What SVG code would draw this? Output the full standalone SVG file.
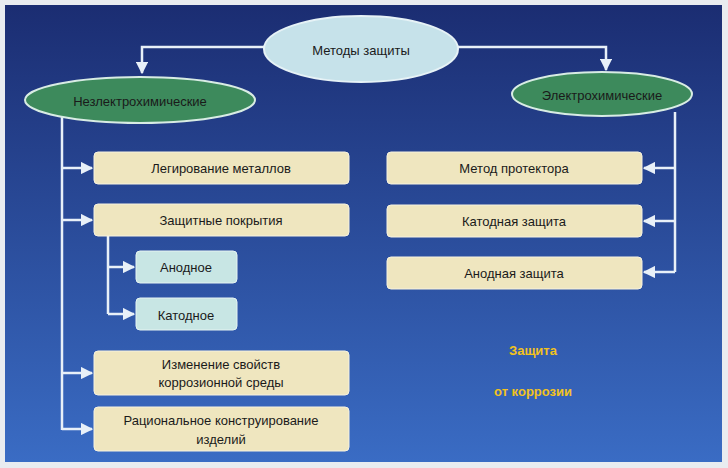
<svg xmlns="http://www.w3.org/2000/svg" width="728" height="468" viewBox="0 0 728 468">
<defs>
<linearGradient id="bg" x1="0" y1="0" x2="0" y2="1"><stop offset="0" stop-color="#1b2d72"/><stop offset="1" stop-color="#3a6cc4"/></linearGradient>
<marker id="ar" viewBox="0 0 10 10" refX="9" refY="5" markerWidth="5" markerHeight="5" orient="auto"><path d="M0,0L10,5L0,10z" fill="#e8f0f8"/></marker>
</defs>
<style>
.c{fill:none;stroke:#e8f0f8;stroke-width:2.5}
.b{fill:#efe6bf;stroke:#f6f2e0;stroke-width:1}
.s{fill:#c8e6e4;stroke:#e6f4f2;stroke-width:1}
text{font-family:"Liberation Sans",Arial,sans-serif;font-size:13px;fill:#1a1a1a;text-anchor:middle}
</style>
<rect x="0" y="0" width="728" height="468" fill="#e9ecf0"/>
<rect x="5" y="5" width="717" height="457" fill="url(#bg)"/>
<g id="connectors">
<path class="c" d="M266,47H142V73" marker-end="url(#ar)"/>
<path class="c" d="M457,47H606V70" marker-end="url(#ar)"/>
<path class="c" d="M62,115V430"/>
<path class="c" d="M62,168H92" marker-end="url(#ar)"/>
<path class="c" d="M62,220H92" marker-end="url(#ar)"/>
<path class="c" d="M62,373H92" marker-end="url(#ar)"/>
<path class="c" d="M62,429H92" marker-end="url(#ar)"/>
<path class="c" d="M108,236V314"/>
<path class="c" d="M108,267H134" marker-end="url(#ar)"/>
<path class="c" d="M108,314H134" marker-end="url(#ar)"/>
<path class="c" d="M675,112V272"/>
<path class="c" d="M675,168H644" marker-end="url(#ar)"/>
<path class="c" d="M675,221H644" marker-end="url(#ar)"/>
<path class="c" d="M675,272H644" marker-end="url(#ar)"/>
</g>
<g id="root"><ellipse cx="361" cy="49" rx="97" ry="33" fill="#c6e2ea" stroke="#e6f2f6" stroke-width="2"/><text x="361" y="55" font-size="16">Методы защиты</text></g>
<g id="nonel"><ellipse cx="140" cy="100" rx="115" ry="23" fill="#3d8a5c" stroke="#d8ece4" stroke-width="2"/><text x="140" y="106" font-size="15">Незлектрохимические</text></g>
<g id="el"><ellipse cx="602" cy="94" rx="90" ry="22" fill="#3d8a5c" stroke="#d8ece4" stroke-width="2"/><text x="602" y="100" font-size="15">Электрохимические</text></g>
<g id="n1"><rect class="b" x="94" y="152" width="255" height="32" rx="4"/><text x="221" y="173">Легирование металлов</text></g>
<g id="n2"><rect class="b" x="94" y="204" width="255" height="32" rx="4"/><text x="221" y="225">Защитные покрытия</text></g>
<g id="n3"><rect class="s" x="136" y="251" width="101" height="32" rx="4"/><text x="186" y="272">Анодное</text></g>
<g id="n4"><rect class="s" x="136" y="298" width="101" height="32" rx="4"/><text x="186" y="320">Катодное</text></g>
<g id="n5"><rect class="b" x="94" y="351" width="255" height="44" rx="4"/><text x="221" y="369">Изменение свойств</text><text x="221" y="387">коррозионной среды</text></g>
<g id="n6"><rect class="b" x="94" y="407" width="255" height="44" rx="4"/><text x="221" y="425">Рациональное конструирование</text><text x="221" y="444">изделий</text></g>
<g id="r1"><rect class="b" x="387" y="152" width="255" height="32" rx="4"/><text x="514" y="173">Метод протектора</text></g>
<g id="r2"><rect class="b" x="387" y="205" width="255" height="32" rx="4"/><text x="514" y="226">Катодная защита</text></g>
<g id="r3"><rect class="b" x="387" y="257" width="255" height="32" rx="4"/><text x="514" y="278">Анодная защита</text></g>
<g id="title"><text x="533" y="355" font-size="31" font-weight="bold" fill="#f2c21e" style="fill:#f2c21e">Защита</text><text x="533" y="396" font-size="31" font-weight="bold" style="fill:#f2c21e">от коррозии</text></g>
</svg>
